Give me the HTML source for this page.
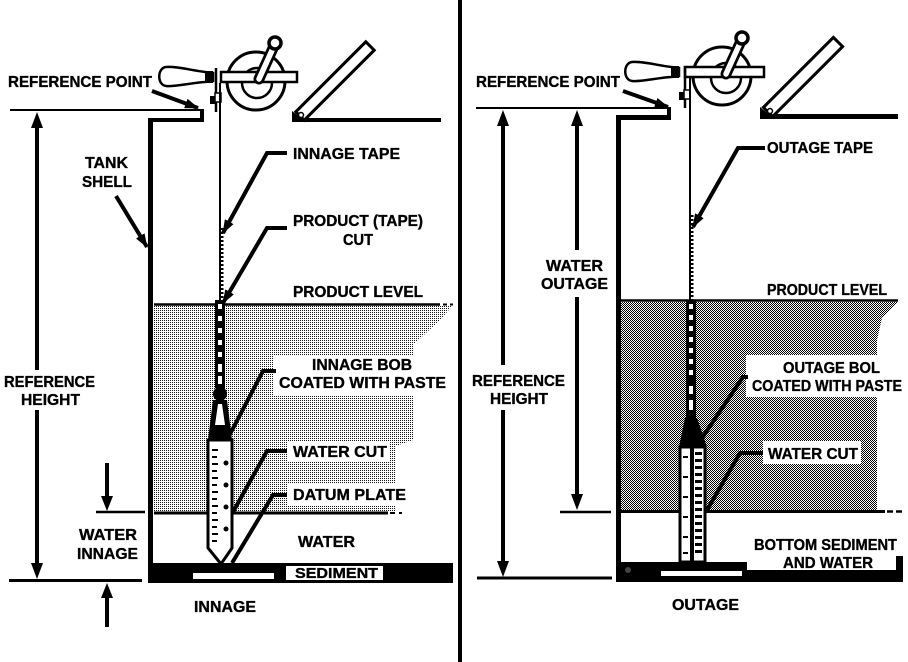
<!DOCTYPE html>
<html><head><meta charset="utf-8"><style>
html,body{margin:0;padding:0;background:#fff;}
svg{display:block;}
text{font-family:"Liberation Sans",Arial,sans-serif;font-weight:bold;font-size:16px;fill:#000;stroke:#000;stroke-width:0.35px;}
</style></head><body>
<svg width="908" height="662" viewBox="0 0 908 662" xmlns="http://www.w3.org/2000/svg">
<defs>
<pattern id="st1" width="2" height="2" patternUnits="userSpaceOnUse"><rect width="2" height="2" fill="#fff"/><rect x="0" y="0" width="1" height="1" fill="#111"/></pattern>
<pattern id="st2" width="2" height="2" patternUnits="userSpaceOnUse"><rect width="2" height="2" fill="#fff"/><rect x="0" y="0" width="1" height="1" fill="#000"/><rect x="1" y="1" width="1" height="1" fill="#000"/></pattern>
<marker id="ah" markerUnits="userSpaceOnUse" markerWidth="14" markerHeight="10" refX="13" refY="5" orient="auto"><path d="M0,0 L14,5 L0,10 z" fill="#000"/></marker>
</defs>
<rect width="908" height="662" fill="#fff"/>

<!-- ============ LEFT PANEL ============ -->
<polygon points="154,305 453,305 440,320 413,345 413,440 396,446 396,511 154,511" fill="url(#st1)"/>
<polygon points="330,305 453,305 440,320 413,345 413,355 330,355" fill="url(#st1)" opacity="0.6"/>
<line x1="154" y1="304.5" x2="440" y2="304.5" stroke="#000" stroke-width="2.5"/>
<line x1="443" y1="304.5" x2="453" y2="304.5" stroke="#000" stroke-width="2" stroke-dasharray="4 3"/>
<line x1="154" y1="513" x2="388" y2="513" stroke="#000" stroke-width="3"/>
<line x1="390" y1="513" x2="402" y2="513" stroke="#000" stroke-width="2" stroke-dasharray="5 4"/>
<rect x="273" y="355" width="175" height="41" fill="#fff"/>
<rect x="287" y="441" width="103" height="21" fill="#fff"/>
<rect x="287" y="484" width="123" height="21" fill="#fff"/>

<rect x="148" y="118" width="5" height="465" fill="#000"/>
<rect x="148" y="118" width="56" height="4" fill="#000"/>
<rect x="200" y="109" width="4" height="13" fill="#000"/>
<rect x="292" y="118" width="149" height="4" fill="#000"/>
<rect x="148" y="563" width="305" height="20" fill="#000"/>
<rect x="193" y="573" width="81" height="6" fill="#fff"/>
<rect x="286" y="566" width="97" height="14" fill="#fff"/>

<polygon points="295.8,111.8 304.2,120.2 374.2,50.2 365.8,41.8" fill="#fff" stroke="#000" stroke-width="3"/>
<polygon points="292,111 292,122 306,122" fill="#000"/>
<circle cx="301" cy="115" r="2.5" fill="#fff" stroke="#000" stroke-width="1.5"/>

<g>
<circle cx="256" cy="81" r="29" fill="#fff" stroke="#000" stroke-width="3"/>
<circle cx="257" cy="83" r="15" fill="#fff" stroke="#000" stroke-width="2.5"/>
<rect x="221" y="72" width="76" height="10" fill="#fff" stroke="#000" stroke-width="2.5"/>
<line x1="259" y1="79" x2="274" y2="46" stroke="#000" stroke-width="11" stroke-linecap="round"/>
<line x1="259" y1="79" x2="274" y2="46" stroke="#fff" stroke-width="5.5" stroke-linecap="round"/>
<circle cx="275" cy="43" r="6" fill="#fff" stroke="#000" stroke-width="3.5"/>
<path d="M213,73 L205,72 C190,70 175,66 166,67 C157,68 157,85 166,86 C175,87 190,83 205,82 L213,81 z" fill="#fff" stroke="#000" stroke-width="2.5"/>
<rect x="205" y="71" width="8" height="12" fill="#000"/>
</g>
<line x1="216" y1="68" x2="216" y2="112" stroke="#000" stroke-width="2.5"/>
<rect x="210" y="96" width="7" height="8" fill="#000"/>
<rect x="215" y="93" width="6" height="9" fill="#fff" stroke="#000" stroke-width="1.5"/>

<line x1="220" y1="83" x2="220" y2="300" stroke="#000" stroke-width="2"/>
<line x1="222" y1="228" x2="222" y2="300" stroke="#000" stroke-width="3" stroke-dasharray="2 2"/>
<rect x="215" y="300" width="10" height="88" fill="#000"/>
<g fill="#fff">
<rect x="218" y="304" width="4" height="5"/><rect x="218" y="316" width="4" height="5"/><rect x="218" y="328" width="4" height="5"/><rect x="218" y="340" width="4" height="5"/><rect x="218" y="352" width="4" height="5"/><rect x="218" y="364" width="4" height="8"/><rect x="218" y="376" width="4" height="8"/>
</g>
<circle cx="220" cy="394" r="7" fill="#000"/>
<polygon points="213,400 227,400 232,440 208,440" fill="#000"/>
<polygon points="218,404 222,404 225,425 215,425" fill="#fff"/>
<path d="M208,440 L232,440 L232,548 L221,564 L208,548 z" fill="#fff" stroke="#000" stroke-width="3"/>
<g stroke="#000" stroke-width="2">
<line x1="212" y1="450" x2="218" y2="450"/><line x1="212" y1="457" x2="217" y2="457"/><line x1="212" y1="464" x2="218" y2="464"/><line x1="212" y1="471" x2="217" y2="471"/><line x1="212" y1="478" x2="218" y2="478"/><line x1="212" y1="485" x2="217" y2="485"/><line x1="212" y1="492" x2="218" y2="492"/><line x1="212" y1="499" x2="217" y2="499"/><line x1="212" y1="506" x2="218" y2="506"/><line x1="212" y1="513" x2="217" y2="513"/><line x1="212" y1="520" x2="218" y2="520"/><line x1="212" y1="527" x2="217" y2="527"/><line x1="212" y1="534" x2="218" y2="534"/><line x1="212" y1="541" x2="217" y2="541"/>
</g>
<g fill="#000"><circle cx="226" cy="463" r="2.5"/><circle cx="226" cy="485" r="2.5"/><circle cx="226" cy="507" r="2.5"/><circle cx="226" cy="529" r="2.5"/></g>

<line x1="10" y1="110" x2="200" y2="110" stroke="#000" stroke-width="2"/>
<line x1="37" y1="125" x2="37" y2="370" stroke="#000" stroke-width="4"/>
<line x1="37" y1="410" x2="37" y2="566" stroke="#000" stroke-width="4"/>
<polygon points="37,112 31,128 43,128" fill="#000"/>
<polygon points="37,579 31,563 43,563" fill="#000"/>
<line x1="9" y1="580.5" x2="142" y2="580.5" stroke="#000" stroke-width="3"/>
<line x1="107" y1="463" x2="107" y2="498" stroke="#000" stroke-width="4"/>
<polygon points="107,511 101,496 113,496" fill="#000"/>
<line x1="96" y1="512" x2="145" y2="512" stroke="#000" stroke-width="2.5"/>
<line x1="107" y1="597" x2="107" y2="627" stroke="#000" stroke-width="4"/>
<polygon points="107,583 101,598 113,598" fill="#000"/>

<g stroke="#000" stroke-width="4" fill="none">
<line x1="152" y1="91" x2="198" y2="108" marker-end="url(#ah)"/>
<line x1="116" y1="196" x2="147" y2="247" marker-end="url(#ah)"/>
<polyline points="287,153 267,153 223,233" marker-end="url(#ah)"/>
<polyline points="287,228 267,228 223,303" marker-end="url(#ah)"/>
<polyline points="276,371 263,371 229,436"/>
<polyline points="287,451 267,451 233,512"/>
<polyline points="287,495 273,495 232,563"/>
</g>

<text x="8" y="87" textLength="144" lengthAdjust="spacingAndGlyphs">REFERENCE POINT</text>
<text x="85" y="168" textLength="43" lengthAdjust="spacingAndGlyphs">TANK</text>
<text x="82" y="187" textLength="50" lengthAdjust="spacingAndGlyphs">SHELL</text>
<text x="293" y="159" textLength="107" lengthAdjust="spacingAndGlyphs">INNAGE TAPE</text>
<text x="293" y="226" textLength="130" lengthAdjust="spacingAndGlyphs">PRODUCT (TAPE)</text>
<text x="343" y="245" textLength="30" lengthAdjust="spacingAndGlyphs">CUT</text>
<text x="293" y="297" textLength="130" lengthAdjust="spacingAndGlyphs">PRODUCT LEVEL</text>
<text x="312" y="370" textLength="100" lengthAdjust="spacingAndGlyphs">INNAGE BOB</text>
<text x="279" y="388" textLength="167" lengthAdjust="spacingAndGlyphs">COATED WITH PASTE</text>
<text x="293" y="457" textLength="94" lengthAdjust="spacingAndGlyphs">WATER CUT</text>
<text x="293" y="500" textLength="113" lengthAdjust="spacingAndGlyphs">DATUM PLATE</text>
<text x="298" y="547" textLength="57" lengthAdjust="spacingAndGlyphs">WATER</text>
<text x="295" y="578" textLength="83" lengthAdjust="spacingAndGlyphs" style="font-size:15px">SEDIMENT</text>
<text x="194" y="612" textLength="62" lengthAdjust="spacingAndGlyphs">INNAGE</text>
<text x="4" y="387" textLength="91" lengthAdjust="spacingAndGlyphs">REFERENCE</text>
<text x="21" y="405" textLength="59" lengthAdjust="spacingAndGlyphs">HEIGHT</text>
<text x="79" y="540" textLength="58" lengthAdjust="spacingAndGlyphs">WATER</text>
<text x="77" y="559" textLength="61" lengthAdjust="spacingAndGlyphs">INNAGE</text>

<rect x="458" y="0" width="4" height="662" fill="#000"/>

<!-- ============ RIGHT PANEL ============ -->
<polygon points="621,302 898,302 882,318 877,340 877,510 621,510" fill="url(#st2)"/>
<line x1="621" y1="300.5" x2="898" y2="300.5" stroke="#000" stroke-width="2.5"/>
<line x1="621" y1="511.5" x2="885" y2="511.5" stroke="#000" stroke-width="3"/>
<line x1="887" y1="511.5" x2="905" y2="511.5" stroke="#000" stroke-width="2.5" stroke-dasharray="6 3"/>
<rect x="746" y="355" width="159" height="42" fill="#fff"/>
<rect x="763" y="441" width="98" height="23" fill="#fff"/>

<rect x="616" y="115" width="5" height="467" fill="#000"/>
<rect x="616" y="115" width="55" height="5" fill="#000"/>
<rect x="667" y="107" width="4" height="13" fill="#000"/>
<rect x="760" y="114" width="138" height="5" fill="#000"/>
<rect x="616" y="562" width="131" height="20" fill="#000"/>
<rect x="747" y="570" width="156" height="12" fill="#000"/>
<rect x="896" y="556" width="7" height="26" fill="#000"/>
<rect x="661" y="571" width="81" height="5" fill="#fff"/>
<rect x="747" y="532" width="149" height="38" fill="#fff"/>
<circle cx="628" cy="570" r="3" fill="#444"/>

<polygon points="763.4,107.4 772.6,116.6 842.6,46.6 833.4,37.4" fill="#fff" stroke="#000" stroke-width="3"/>
<polygon points="760,107 760,119 774,119" fill="#000"/>
<circle cx="770" cy="111" r="2.5" fill="#fff" stroke="#000" stroke-width="1.5"/>

<g transform="translate(466,-5)">
<circle cx="256" cy="81" r="29" fill="#fff" stroke="#000" stroke-width="3"/>
<circle cx="260" cy="83" r="15" fill="#fff" stroke="#000" stroke-width="2.5"/>
<rect x="219" y="72" width="79" height="10" fill="#fff" stroke="#000" stroke-width="2.5"/>
<line x1="260" y1="79" x2="275" y2="46" stroke="#000" stroke-width="11" stroke-linecap="round"/>
<line x1="260" y1="79" x2="275" y2="46" stroke="#fff" stroke-width="5.5" stroke-linecap="round"/>
<circle cx="276" cy="43" r="6" fill="#fff" stroke="#000" stroke-width="3.5"/>
<path d="M213,73 L205,72 C190,70 175,66 166,67 C157,68 157,85 166,86 C175,87 190,83 205,82 L213,81 z" fill="#fff" stroke="#000" stroke-width="2.5"/>
<rect x="205" y="71" width="8" height="12" fill="#000"/>
</g>
<line x1="685" y1="66" x2="685" y2="108" stroke="#000" stroke-width="2.5"/>
<rect x="679" y="92" width="6" height="8" fill="#000"/>
<rect x="684" y="90" width="6" height="9" fill="#fff" stroke="#000" stroke-width="1.5"/>

<line x1="690" y1="78" x2="690" y2="300" stroke="#000" stroke-width="2"/>
<line x1="692" y1="215" x2="692" y2="300" stroke="#000" stroke-width="3" stroke-dasharray="2 2"/>
<rect x="686" y="300" width="10" height="120" fill="#000"/>
<g fill="#fff">
<rect x="689" y="304" width="4" height="5"/><rect x="689" y="315" width="4" height="5"/><rect x="689" y="326" width="4" height="5"/><rect x="689" y="337" width="4" height="5"/><rect x="689" y="348" width="4" height="5"/><rect x="689" y="359" width="4" height="5"/><rect x="689" y="370" width="4" height="5"/><rect x="689" y="386" width="4" height="8"/><rect x="689" y="400" width="4" height="10"/>
</g>
<polygon points="685,418 697,418 707,447 679,447" fill="#000"/>
<rect x="680" y="447" width="25" height="115" fill="#fff" stroke="#000" stroke-width="3"/>
<rect x="690" y="447" width="4" height="115" fill="#000"/>
<g fill="#000">
<rect x="695" y="452" width="7" height="3"/><rect x="695" y="459" width="7" height="3"/><rect x="695" y="466" width="7" height="3"/><rect x="695" y="473" width="7" height="3"/><rect x="695" y="480" width="7" height="3"/><rect x="695" y="487" width="7" height="3"/><rect x="695" y="494" width="7" height="3"/><rect x="695" y="501" width="7" height="3"/><rect x="695" y="508" width="7" height="3"/><rect x="695" y="515" width="7" height="3"/><rect x="695" y="522" width="7" height="3"/><rect x="695" y="529" width="7" height="3"/><rect x="695" y="536" width="7" height="3"/><rect x="695" y="543" width="7" height="3"/><rect x="695" y="550" width="7" height="3"/>
<rect x="683" y="456" width="5" height="2"/><rect x="683" y="476" width="5" height="2"/><rect x="683" y="496" width="5" height="2"/><rect x="683" y="516" width="5" height="2"/><rect x="683" y="536" width="5" height="2"/><rect x="683" y="552" width="5" height="2"/>
</g>

<line x1="476" y1="108" x2="668" y2="108" stroke="#000" stroke-width="2"/>
<line x1="503" y1="125" x2="503" y2="365" stroke="#000" stroke-width="4"/>
<line x1="503" y1="410" x2="503" y2="563" stroke="#000" stroke-width="4"/>
<polygon points="503,110 497,126 509,126" fill="#000"/>
<polygon points="503,577 497,561 509,561" fill="#000"/>
<line x1="577" y1="125" x2="577" y2="250" stroke="#000" stroke-width="4"/>
<line x1="577" y1="297" x2="577" y2="496" stroke="#000" stroke-width="4"/>
<polygon points="577,110 571,126 583,126" fill="#000"/>
<polygon points="577,510 571,494 583,494" fill="#000"/>
<line x1="560" y1="512" x2="611" y2="512" stroke="#000" stroke-width="2.5"/>
<line x1="477" y1="578" x2="612" y2="578" stroke="#000" stroke-width="3"/>

<g stroke="#000" stroke-width="4" fill="none">
<line x1="623" y1="91" x2="668" y2="107" marker-end="url(#ah)"/>
<polyline points="765,148 738,148 693,227" marker-end="url(#ah)"/>
<polyline points="748,377 743,377 702,438"/>
<polyline points="763,453 740,453 707,510"/>
</g>

<text x="476" y="87" textLength="144" lengthAdjust="spacingAndGlyphs">REFERENCE POINT</text>
<text x="767" y="153" textLength="106" lengthAdjust="spacingAndGlyphs">OUTAGE TAPE</text>
<text x="546" y="271" textLength="57" lengthAdjust="spacingAndGlyphs">WATER</text>
<text x="541" y="289" textLength="67" lengthAdjust="spacingAndGlyphs">OUTAGE</text>
<text x="767" y="295" textLength="120" lengthAdjust="spacingAndGlyphs">PRODUCT LEVEL</text>
<text x="783" y="373" textLength="97" lengthAdjust="spacingAndGlyphs">OUTAGE BOL</text>
<text x="752" y="391" textLength="150" lengthAdjust="spacingAndGlyphs">COATED WITH PASTE</text>
<text x="768" y="459" textLength="90" lengthAdjust="spacingAndGlyphs">WATER CUT</text>
<text x="754" y="550" textLength="143" lengthAdjust="spacingAndGlyphs">BOTTOM SEDIMENT</text>
<text x="783" y="568" textLength="90" lengthAdjust="spacingAndGlyphs">AND WATER</text>
<text x="672" y="610" textLength="67" lengthAdjust="spacingAndGlyphs">OUTAGE</text>
<text x="472" y="386" textLength="93" lengthAdjust="spacingAndGlyphs">REFERENCE</text>
<text x="490" y="404" textLength="58" lengthAdjust="spacingAndGlyphs">HEIGHT</text>
</svg>
</body></html>
